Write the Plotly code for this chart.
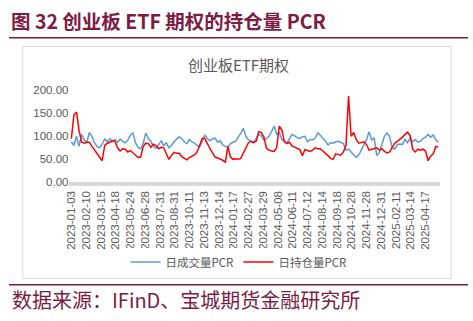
import plotly.graph_objects as go

W, H = 473, 321

# ---- data (one value every 4 trading days) ----
step_days = 4
vol_pcr = [88, 80, 100, 78, 104, 92, 87, 108, 100, 86, 78, 75, 83, 94, 88, 94, 89, 93, 87, 94,
           89, 86, 92, 102, 107, 86, 76, 73, 85, 107, 95, 88, 78, 74, 82, 90, 80, 86, 75, 80,
           88, 93, 99, 95, 88, 84, 93, 88, 85, 80, 77, 90, 103, 95, 90, 94, 96, 87, 90, 81,
           78, 77, 84, 87, 89, 98, 106, 117, 100, 92, 90, 86, 95, 104, 101, 92, 95, 100, 110, 122,
           104, 108, 93, 88, 85, 95, 104, 101, 97, 95, 99, 100, 88, 93, 92, 96, 107, 102, 97, 90,
           81, 86, 85, 88, 89, 86, 84, 70, 72, 66, 60, 54, 60, 70, 80, 92, 110, 92, 96, 58,
           65, 82, 100, 107, 100, 75, 72, 82, 83, 82, 93, 86, 96, 88, 93, 87, 89, 95, 98, 104,
           98, 103, 92, 87]
oi_pcr = [95, 147, 152, 112, 87, 85, 87, 87, 78, 70, 64, 56, 47, 80, 85, 87, 90, 89, 75, 68,
          73, 72, 66, 69, 64, 60, 54, 55, 78, 85, 84, 76, 83, 80, 73, 76, 75, 62, 50, 58,
          65, 63, 63, 56, 52, 49, 54, 57, 60, 66, 82, 95, 95, 83, 73, 64, 55, 53, 51, 48,
          44, 78, 55, 50, 51, 50, 52, 63, 76, 86, 89, 86, 89, 110, 108, 99, 74, 70, 68, 67,
          75, 122, 114, 88, 84, 87, 79, 76, 74, 71, 58, 71, 69, 67, 70, 75, 73, 73, 68, 64,
          58, 52, 50, 62, 61, 59, 66, 80, 187, 100, 108, 93, 85, 86, 88, 82, 70, 72, 74, 75,
          70, 73, 67, 64, 66, 75, 85, 89, 93, 98, 104, 109, 101, 72, 66, 72, 70, 72, 68, 47,
          57, 62, 78, 77]
tick_labels = ["2023-01-03", "2023-02-10", "2023-03-15", "2023-04-18", "2023-05-24", "2023-06-28",
               "2023-07-31", "2023-08-31", "2023-10-11", "2023-11-13", "2023-12-14", "2024-01-17",
               "2024-02-27", "2024-03-29", "2024-05-08", "2024-06-11", "2024-07-12", "2024-08-14",
               "2024-09-18", "2024-10-28", "2024-11-28", "2024-12-31", "2025-02-11", "2025-03-14",
               "2025-04-17"]
label_gap_days = 23
series_names = ["日成交量PCR", "日持仓量PCR"]

x_idx = [i * step_days for i in range(len(vol_pcr))]
tickvals = [i * label_gap_days for i in range(len(tick_labels))]

DARK_RED = "#7E1B43"
GRAY_TXT = "#595959"
FONT = "Liberation Sans, Noto Sans CJK SC, sans-serif"
CJK = "Noto Sans CJK SC, sans-serif"

def px_x(p):
    return p / W

def px_y(p):
    return 1 - p / H

fig = go.Figure()
fig.add_trace(go.Scatter(x=x_idx, y=vol_pcr, mode="lines", name=series_names[0],
                         line=dict(color="#5B9BD5", width=1.5)))
fig.add_trace(go.Scatter(x=x_idx, y=oi_pcr, mode="lines", name=series_names[1],
                         line=dict(color="#FF0000", width=1.5)))

fig.update_layout(
    width=W, height=H,
    margin=dict(l=0, r=0, t=0, b=0),
    paper_bgcolor="white", plot_bgcolor="white",
    font=dict(family=FONT, color=GRAY_TXT, size=11),
    showlegend=True,
    legend=dict(orientation="h", x=0.5, xanchor="center", y=px_y(266), yanchor="middle",
                font=dict(family=CJK, size=11.5, color=GRAY_TXT), entrywidth=0,
                itemwidth=30, tracegroupgap=0),
    xaxis=dict(domain=[px_x(66), px_x(440)], range=[-3, 575],
               tickmode="array", tickvals=tickvals, ticktext=tick_labels,
               tickangle=-90, showgrid=False, zeroline=False,
               showline=True, linecolor="#D9D9D9", linewidth=4,
               ticks="", tickfont=dict(size=11.5, color=GRAY_TXT, family=FONT)),
    yaxis=dict(domain=[px_y(183.3), px_y(87.3)], range=[0, 200],
               tickvals=[0, 50, 100, 150, 200], tickformat=".2f",
               showgrid=False, zeroline=False, showline=False, ticks="",
               tickfont=dict(size=11.5, color=GRAY_TXT, family=FONT)),
)

shapes = [
    # header underline
    dict(type="line", xref="paper", yref="paper", x0=px_x(5), x1=px_x(468),
         y0=px_y(33), y1=px_y(33), line=dict(color=DARK_RED, width=1.5)),
    # chart box
    dict(type="rect", xref="paper", yref="paper", x0=px_x(19), x1=px_x(451),
         y0=px_y(283), y1=px_y(42), line=dict(color="#D9D9D9", width=1)),
    # bottom rule
    dict(type="line", xref="paper", yref="paper", x0=px_x(5), x1=px_x(468),
         y0=px_y(289.5), y1=px_y(289.5), line=dict(color=DARK_RED, width=1.5)),
]
fig.update_layout(shapes=shapes)

fig.add_annotation(text="<b>图 32 创业板 ETF 期权的持仓量 PCR</b>", xref="paper", yref="paper",
                   x=px_x(5), y=px_y(15), xanchor="left", yanchor="middle", showarrow=False,
                   font=dict(family=CJK, size=19.5, color=DARK_RED))
fig.add_annotation(text="创业板ETF期权", xref="paper", yref="paper",
                   x=px_x(236), y=px_y(61), xanchor="center", yanchor="middle", showarrow=False,
                   font=dict(family=CJK, size=15, color=GRAY_TXT))
fig.add_annotation(text="数据来源：IFinD、宝城期货金融研究所", xref="paper", yref="paper",
                   x=px_x(6), y=px_y(305), xanchor="left", yanchor="middle", showarrow=False,
                   font=dict(family=CJK, size=20, color=DARK_RED))

fig.write_html("out.html")
